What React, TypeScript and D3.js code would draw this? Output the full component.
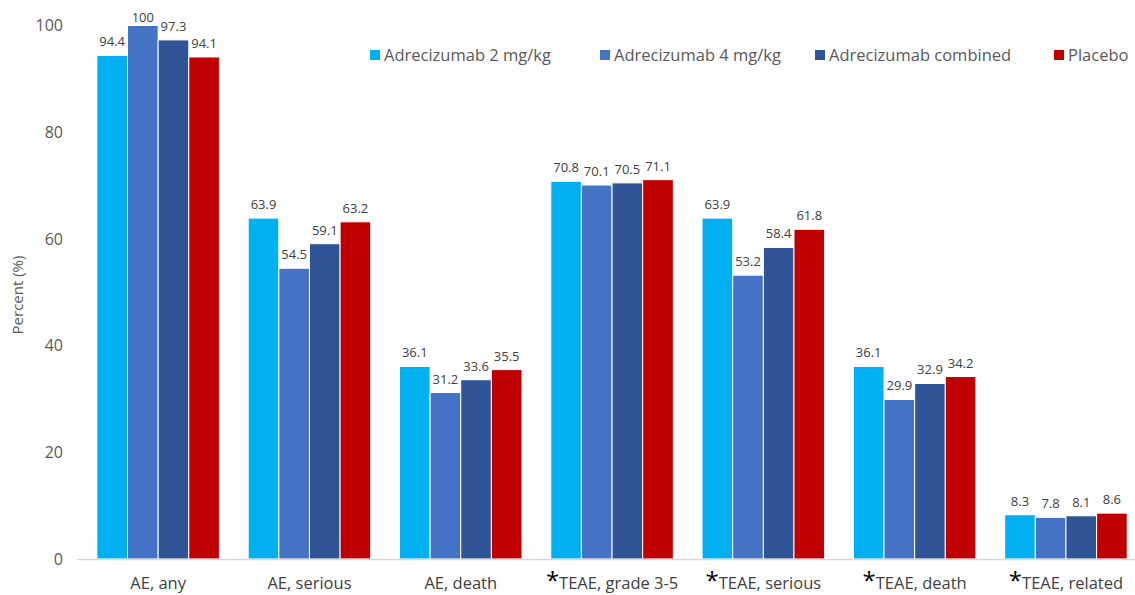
import React from "react";
import * as d3 from "d3";

const categories = ["AE, any", "AE, serious", "AE, death", "TEAE, grade 3-5", "TEAE, serious", "TEAE, death", "TEAE, related"];
const starred = [false, false, false, true, true, true, true];
const seriesNames = ["Adrecizumab 2 mg/kg", "Adrecizumab 4 mg/kg", "Adrecizumab combined", "Placebo"];
const seriesColors = ["#00B0F0", "#4472C4", "#2F5597", "#C00000"];
const s2mg = [94.4, 63.9, 36.1, 70.8, 63.9, 36.1, 8.3];
const s4mg = [100, 54.5, 31.2, 70.1, 53.2, 29.9, 7.8];
const sComb = [97.3, 59.1, 33.6, 70.5, 58.4, 32.9, 8.1];
const sPlacebo = [94.1, 63.2, 35.5, 71.1, 61.8, 34.2, 8.6];
const yTicks = [0, 20, 40, 60, 80, 100];
const legendX = [370, 600, 815, 1054];

const W = 1135, H = 595;
const FONT = "'Open Sans', sans-serif";

export default function App() {
  const series = [s2mg, s4mg, sComb, sPlacebo];
  const y = d3.scaleLinear().domain([0, 100]).range([559, 25.5]);
  const x0 = d3.scaleBand<string>().domain(categories).range([82.5, 82.5 + 7 * 151.3]).paddingInner(0.19).paddingOuter(0.095);
  const x1 = d3.scaleBand<string>().domain(seriesNames).range([0, x0.bandwidth()]).padding(0);
  return (
    <svg width={W} height={H} style={{ position: "absolute", left: 0, top: 0, background: "#fff" }}>
      <rect x={0} y={0} width={W} height={H} fill="#fff" />
      {yTicks.map((t) => (
        <text key={t} x={63} y={y(t)} dy="0.35em" textAnchor="end" fontFamily={FONT} fontSize={16} fill="#595959">{t}</text>
      ))}
      <text transform={`translate(23,${295}) rotate(-90)`} textAnchor="middle" fontFamily={FONT} fontSize={15} fill="#595959">Percent (%)</text>
      {categories.map((c, ci) => (
        <g key={c} transform={`translate(${x0(c)},0)`}>
          {seriesNames.map((s, si) => {
            const v = series[si][ci];
            const bx = x1(s)!;
            return (
              <g key={s}>
                <rect x={bx} y={y(v)} width={x1.bandwidth()} height={y(0) - y(v)} fill={seriesColors[si]} stroke="#fff" strokeWidth={1} />
                <text x={bx + x1.bandwidth() / 2} y={Math.max(y(v) - 9, 22)} textAnchor="middle" fontFamily={FONT} fontSize={13} fill="#404040">{v}</text>
              </g>
            );
          })}
        </g>
      ))}
      <line x1={77} x2={W} y1={y(0) + 0.5} y2={y(0) + 0.5} stroke="#d9d9d9" strokeWidth={1.5} />
      {categories.map((c, ci) => (
        <text key={c} x={x0(c)! + x0.bandwidth() / 2} y={589} textAnchor="middle" fontFamily={FONT} fontSize={16.5} fill="#404040">
          {starred[ci] && <tspan fontSize={24} fill="#000">*</tspan>}
          <tspan>{c}</tspan>
        </text>
      ))}
      {seriesNames.map((s, si) => (
        <g key={s} transform={`translate(${legendX[si]},55)`}>
          <rect x={0} y={-5} width={10} height={10} fill={seriesColors[si]} />
          <text x={14} y={0} dy="0.35em" fontFamily={FONT} fontSize={16.5} fill="#595959">{s}</text>
        </g>
      ))}
    </svg>
  );
}
